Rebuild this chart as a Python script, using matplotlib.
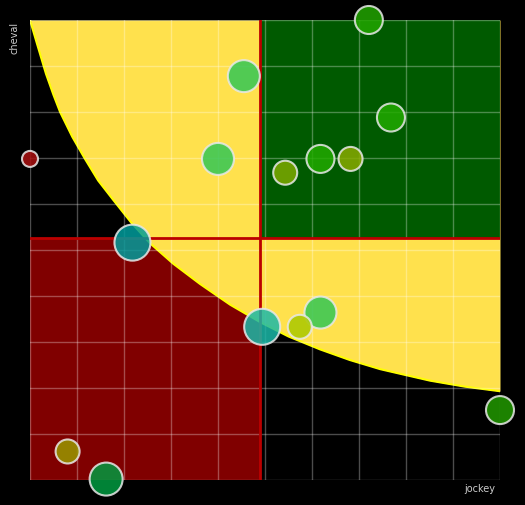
import matplotlib
matplotlib.use('Agg')
import matplotlib.pyplot as plt
from matplotlib.patches import Rectangle

# Bubble data (jockey score, cheval score, radius in px, colour)
jockey = [72.1, 45.5, 76.8, 40.0, 54.3, 61.8, 68.2, 0.0, 21.8, 49.4, 61.8, 57.4, 100.0, 8.0, 16.2]
cheval = [100.0, 87.8, 78.8, 69.8, 66.8, 69.8, 69.8, 69.8, 51.6, 33.3, 36.4, 33.3, 15.2, 6.2, 0.2]
radius = [14, 16, 14, 16, 12, 14, 12, 8, 18, 18, 16, 12, 14, 12, 16.5]
colors = ['#22a600', '#33c655', '#22aa00', '#33c655', '#7daa00', '#22aa00', '#88aa00', '#aa1111',
          '#009c9c', '#1bb8a8', '#33c655', '#aac800', '#229a00', '#999900', '#009a40']

# Boundary of the yellow zone
curve_x = [0, 1.5, 3.4, 5.0, 6.4, 9.0, 11.7, 14.5, 17.7, 21.5, 25.5, 30.5, 36.2, 42.6,
           49.0, 55.0, 61.7, 68.0, 74.5, 80.0, 85.1, 92.5, 100]
curve_y = [100, 94.8, 88.3, 83.7, 80.0, 74.6, 69.8, 65.1, 60.9, 56.0, 51.5, 47.0, 42.6, 38.1,
           34.3, 31.2, 28.4, 26.1, 24.1, 22.8, 21.6, 20.3, 19.3]

x_split = 49.0
y_split = 52.6

fig = plt.figure(figsize=(5.25, 5.05), dpi=100, facecolor='black')
ax = fig.add_axes([30 / 525, 25 / 505, 470 / 525, 460 / 505])
ax.set_facecolor('black')
ax.set_xlim(0, 100)
ax.set_ylim(0, 100)

# zones
ax.add_patch(Rectangle((0, 0), x_split, y_split, facecolor='#800000', edgecolor='none', zorder=1))
ax.fill_between(curve_x, curve_y, 100, color='#ffe14d', linewidth=0, zorder=2)
ax.plot(curve_x, curve_y, color='#ffff00', linewidth=1.5, zorder=2.5)
ax.add_patch(Rectangle((x_split, y_split), 100 - x_split, 100 - y_split,
                       facecolor='#005a00', edgecolor='none', zorder=3))

# grid
for v in range(0, 101, 10):
    ax.axvline(v, color='white', alpha=0.3, linewidth=1, zorder=4)
    ax.axhline(v, color='white', alpha=0.3, linewidth=1, zorder=4)

ax.axvline(x_split, color='#bb0000', linewidth=2, zorder=5)
ax.axhline(y_split, color='#bb0000', linewidth=2, zorder=5)

sizes = [(1.44 * r) ** 2 for r in radius]
ax.scatter(jockey, cheval, s=sizes, c=colors, alpha=0.85, edgecolors='#e8e8e8',
           linewidths=1.5, zorder=6, clip_on=False)

for s in ax.spines.values():
    s.set_visible(False)
ax.set_xticks([])
ax.set_yticks([])

fig.text(495 / 525, 1 - 489 / 505, 'jockey', color='#cccccc', fontsize=7, ha='right', va='center')
fig.text(15 / 525, 1 - 38 / 505, 'cheval', color='#cccccc', fontsize=7, ha='center', va='center',
         rotation=90)

fig.savefig('out.png', dpi=100, facecolor='black')
